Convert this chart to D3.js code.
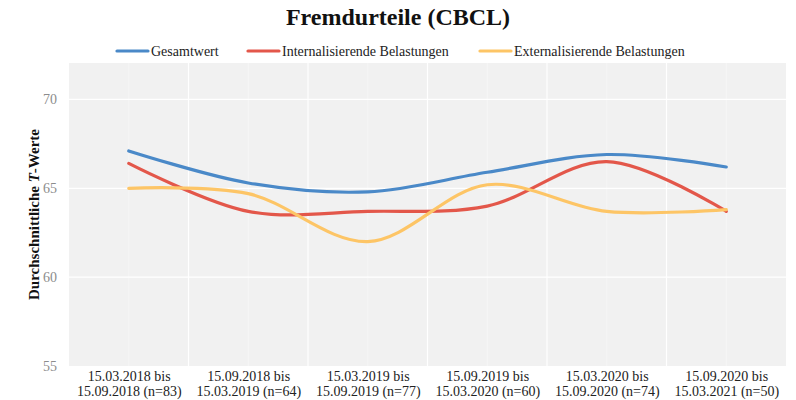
<!DOCTYPE html>
<html>
<head>
<meta charset="utf-8">
<script src="https://cdn.jsdelivr.net/npm/d3@7"></script>
<style>
  body { margin: 0; background: #fff; }
  text { font-family: "Liberation Serif", serif; }
</style>
</head>
<body>
<div id="chart"></div>
<script>
// data
const periods = [
  ["15.03.2018 bis", "15.09.2018 (n=83)"],
  ["15.09.2018 bis", "15.03.2019 (n=64)"],
  ["15.03.2019 bis", "15.09.2019 (n=77)"],
  ["15.09.2019 bis", "15.03.2020 (n=60)"],
  ["15.03.2020 bis", "15.09.2020 (n=74)"],
  ["15.09.2020 bis", "15.03.2021 (n=50)"]
];
const seriesNames = ["Gesamtwert", "Internalisierende Belastungen", "Externalisierende Belastungen"];
const gesamt = [67.1, 65.3, 64.8, 65.9, 66.9, 66.2];
const internal = [66.4, 63.7, 63.7, 64.0, 66.5, 63.7];
const external = [65.0, 64.7, 62.0, 65.2, 63.7, 63.8];
const yTicks = [55, 60, 65, 70];

const width = 796, height = 400;
const mLeft = 69, mRight = 786, mTop = 63, mBottom = 366;
const colors = ["#4a89c8", "#e3574a", "#fdc566"];

const svg = d3.select("#chart").append("svg")
  .attr("width", width)
  .attr("height", height);

const x = d3.scalePoint()
  .domain(d3.range(periods.length))
  .range([mLeft, mRight])
  .padding(0.5);

const y = d3.scaleLinear()
  .domain([55, 72.05])
  .range([mBottom, mTop]);

// panel
svg.append("rect")
  .attr("x", mLeft).attr("y", mTop)
  .attr("width", mRight - mLeft).attr("height", mBottom - mTop)
  .attr("fill", "#f1f1f1");

// vertical grid: faint at categories, stronger in between
const step = x.step();
svg.append("g").selectAll("line")
  .data(x.domain())
  .join("line")
  .attr("x1", d => x(d)).attr("x2", d => x(d))
  .attr("y1", mTop).attr("y2", mBottom)
  .attr("stroke", "#fafafa").attr("stroke-width", 0.6);

svg.append("g").selectAll("line")
  .data(x.domain().slice(1))
  .join("line")
  .attr("x1", d => x(d) - step / 2).attr("x2", d => x(d) - step / 2)
  .attr("y1", mTop).attr("y2", mBottom)
  .attr("stroke", "#fff").attr("stroke-width", 1.2);

svg.append("g").selectAll("line")
  .data(yTicks.filter(d => d > 55))
  .join("line")
  .attr("x1", mLeft).attr("x2", mRight)
  .attr("y1", d => y(d)).attr("y2", d => y(d))
  .attr("stroke", "#fff").attr("stroke-width", 1.2);

// y axis labels
const yAxis = svg.append("g")
  .attr("transform", `translate(${mLeft},0)`)
  .call(d3.axisLeft(y).tickValues(yTicks).tickSize(0).tickPadding(12));
yAxis.select(".domain").remove();
yAxis.selectAll("text")
  .attr("fill", "#8c8c8c")
  .style("font-size", "14px")
  .style("font-family", "'Liberation Serif', serif");

// x axis labels
const xAxis = svg.append("g")
  .attr("transform", `translate(0,${mBottom})`)
  .call(d3.axisBottom(x).tickSize(0).tickFormat(""));
xAxis.select(".domain").remove();
xAxis.selectAll(".tick").each(function(d) {
  const t = d3.select(this).append("text")
    .attr("text-anchor", "middle")
    .attr("fill", "#222")
    .style("font-size", "14px");
  t.append("tspan").attr("x", 0).attr("y", 15).text(periods[d][0]);
  t.append("tspan").attr("x", 0).attr("y", 30).text(periods[d][1]);
});

// y title
const yt = svg.append("text")
  .attr("transform", `translate(39,${(mTop + mBottom) / 2}) rotate(-90)`)
  .attr("text-anchor", "middle")
  .attr("font-weight", "bold")
  .style("font-size", "15px")
  .attr("fill", "#111");
yt.append("tspan").text("Durchschnittliche ");
yt.append("tspan").attr("font-style", "italic").text("T");
yt.append("tspan").text("-Werte");

// lines
const line = d3.line()
  .x((d, i) => x(i))
  .y(d => y(d))
  .curve(d3.curveCatmullRom);

const allSeries = [gesamt, internal, external];
svg.append("g").selectAll("path")
  .data(allSeries)
  .join("path")
  .attr("d", line)
  .attr("fill", "none")
  .attr("stroke", (d, i) => colors[i])
  .attr("stroke-width", 3.2)
  .attr("stroke-linecap", "round");

// title
svg.append("text")
  .attr("x", width / 2).attr("y", 25)
  .attr("text-anchor", "middle")
  .attr("font-weight", "bold")
  .style("font-size", "24px")
  .attr("fill", "#111")
  .text("Fremdurteile (CBCL)");

// legend
const legendX = [117, 248, 480];
const legend = svg.append("g").selectAll("g")
  .data(seriesNames)
  .join("g")
  .attr("transform", (d, i) => `translate(${legendX[i]},51)`);
legend.append("line")
  .attr("x1", 0).attr("x2", 31)
  .attr("stroke", (d, i) => colors[i])
  .attr("stroke-width", 3.2)
  .attr("stroke-linecap", "round");
legend.append("text")
  .attr("x", 34).attr("y", 5)
  .attr("fill", "#222")
  .style("font-size", "14px")
  .text(d => d);
</script>
</body>
</html>
